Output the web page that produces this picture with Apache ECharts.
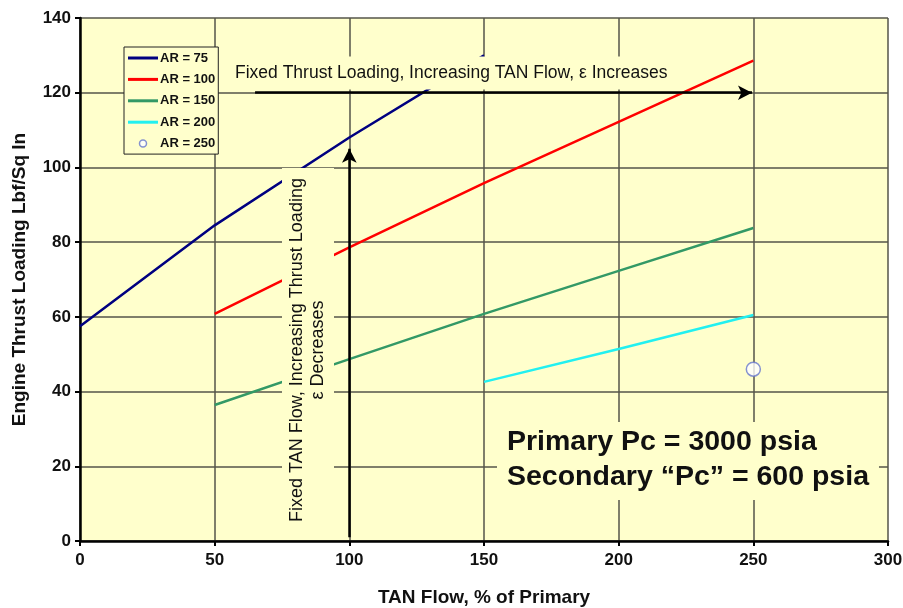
<!DOCTYPE html>
<html><head><meta charset="utf-8">
<script src="https://cdn.jsdelivr.net/npm/echarts@6/dist/echarts.min.js"></script>
<style>html,body{margin:0;padding:0;background:#fff}#c{width:903px;height:608px}</style>
</head><body><div id="c"></div>
<script>
const xTicks = [0, 50, 100, 150, 200, 250, 300];
const yTicks = [0, 20, 40, 60, 80, 100, 120, 140];
const seriesNames = ['AR = 75', 'AR = 100', 'AR = 150', 'AR = 200', 'AR = 250'];
const ar75X = [0, 50, 100, 150];
const ar75Y = [57.5, 84.5, 108, 130];
const ar100X = [50, 100, 150, 200, 250];
const ar100Y = [60.8, 78.6, 95.8, 112.2, 128.6];
const ar150X = [50, 100, 150, 200, 250];
const ar150Y = [36.4, 48.7, 60.8, 72.3, 83.8];
const ar200X = [150, 200, 250];
const ar200Y = [42.6, 51.4, 60.5];
const ar250X = [250];
const ar250Y = [46.0];
const hArrow = [[65, 120], [249.5, 120]];
const vArrow = [[100, 1], [100, 105]];
const hText = 'Fixed Thrust Loading, Increasing TAN Flow, ε Increases';
const vText = 'Fixed TAN Flow, Increasing Thrust Loading\nε Decreases';
const noteText = 'Primary Pc = 3000 psia\nSecondary “Pc” = 600 psia';

const zip = (xs, ys) => xs.map((x, i) => [x, ys[i]]);
const FONT = '"Liberation Sans", Arial, sans-serif';
const BG = '#FFFFCC';
const LINE_ICON = 'path://M0,0h10v1h-10z';

const chart = echarts.init(document.getElementById('c'), null, {renderer: 'canvas'});
function lineSeries(name, xs, ys, color) {
  return {name, type: 'line', data: zip(xs, ys), symbol: 'none', smooth: false,
    lineStyle: {color, width: 2.5}, itemStyle: {color}, z: 3};
}
const option = {
  animation: false,
  backgroundColor: '#fff',
  grid: {left: 80, right: 15, top: 18, bottom: 67, show: true, backgroundColor: BG, borderWidth: 0,
    containLabel: false, outerBoundsMode: 'none'},
  xAxis: {type: 'value', min: 0, max: 300, interval: 50,
    name: 'TAN Flow, % of Primary', nameLocation: 'middle', nameGap: 47,
    nameTextStyle: {fontFamily: FONT, fontWeight: 'bold', fontSize: 19, color: '#111'},
    axisLine: {show: true, onZero: false, lineStyle: {color: '#000', width: 2.5}},
    axisTick: {show: true, length: 5, lineStyle: {color: '#000', width: 2}},
    axisLabel: {fontFamily: FONT, fontWeight: 'bold', fontSize: 17, color: '#111', margin: 11,
      formatter: v => xTicks.includes(v) ? String(v) : ''},
    splitLine: {show: true, lineStyle: {color: '#55554a', width: 1.5}}},
  yAxis: {type: 'value', min: 0, max: 140, interval: 20,
    name: 'Engine Thrust Loading Lbf/Sq In', nameLocation: 'middle', nameGap: 51,
    nameTextStyle: {fontFamily: FONT, fontWeight: 'bold', fontSize: 19, color: '#111'},
    axisLine: {show: true, onZero: false, lineStyle: {color: '#000', width: 2.5}},
    axisTick: {show: true, length: 5, lineStyle: {color: '#000', width: 2}},
    axisLabel: {fontFamily: FONT, fontWeight: 'bold', fontSize: 17, color: '#111', margin: 9,
      formatter: v => yTicks.includes(v) ? String(v) : ''},
    splitLine: {show: true, lineStyle: {color: '#55554a', width: 1.5}}},
  legend: {orient: 'vertical', left: 124, top: 47, padding: [4.5, 3, 4, 4],
    backgroundColor: BG, borderColor: '#222', borderWidth: 1,
    itemWidth: 30, itemHeight: 7, itemGap: 8.4, symbolKeepAspect: true,
    textStyle: {fontFamily: FONT, fontWeight: 'bold', fontSize: 13, lineHeight: 13, color: '#111', padding: [0, 0, 0, -3]},
    data: seriesNames.slice(0, 4).map(n => ({name: n, icon: LINE_ICON})).concat([{name: seriesNames[4], icon: 'circle',
      itemStyle: {color: '#fff', borderColor: '#6677cc', borderWidth: 1.5}}])},
  series: [
    lineSeries(seriesNames[0], ar75X, ar75Y, '#000080'),
    lineSeries(seriesNames[1], ar100X, ar100Y, '#FF0000'),
    lineSeries(seriesNames[2], ar150X, ar150Y, '#339966'),
    lineSeries(seriesNames[3], ar200X, ar200Y, '#22F0F0'),
    {name: seriesNames[4], type: 'scatter', data: zip(ar250X, ar250Y), symbol: 'circle', symbolSize: 14,
      itemStyle: {color: '#fff', borderColor: '#6677cc', borderWidth: 1.5}, z: 4},
    {type: 'line', data: [], silent: true, z: 6,
      markLine: {silent: true, symbol: ['none', 'arrow'], symbolSize: [11, 14], label: {show: false},
        lineStyle: {color: '#000', width: 2.5, type: 'solid'},
        data: [[{coord: hArrow[0]}, {coord: hArrow[1]}], [{coord: vArrow[0]}, {coord: vArrow[1]}]]}}
  ],
  graphic: [
    {type: 'text', z: 100, x: 229, y: 73,
      style: {text: hText, font: '17.5px ' + FONT, fill: '#111', verticalAlign: 'middle',
        backgroundColor: BG, padding: [7, 6, 8, 6]}},
    {type: 'text', z: 100, x: 308, y: 350, rotation: Math.PI / 2,
      style: {text: vText, font: '18px ' + FONT, fill: '#111', align: 'center', verticalAlign: 'middle',
        lineHeight: 21, backgroundColor: BG, padding: [5, 10, 5, 10]}},
    {type: 'text', z: 100, x: 497, y: 422,
      style: {text: noteText, font: 'bold 28.5px ' + FONT, fill: '#111', lineHeight: 35,
        backgroundColor: BG, padding: [3, 10, 5, 10]}}
  ]
};
chart.setOption(option);
</script></body></html>
